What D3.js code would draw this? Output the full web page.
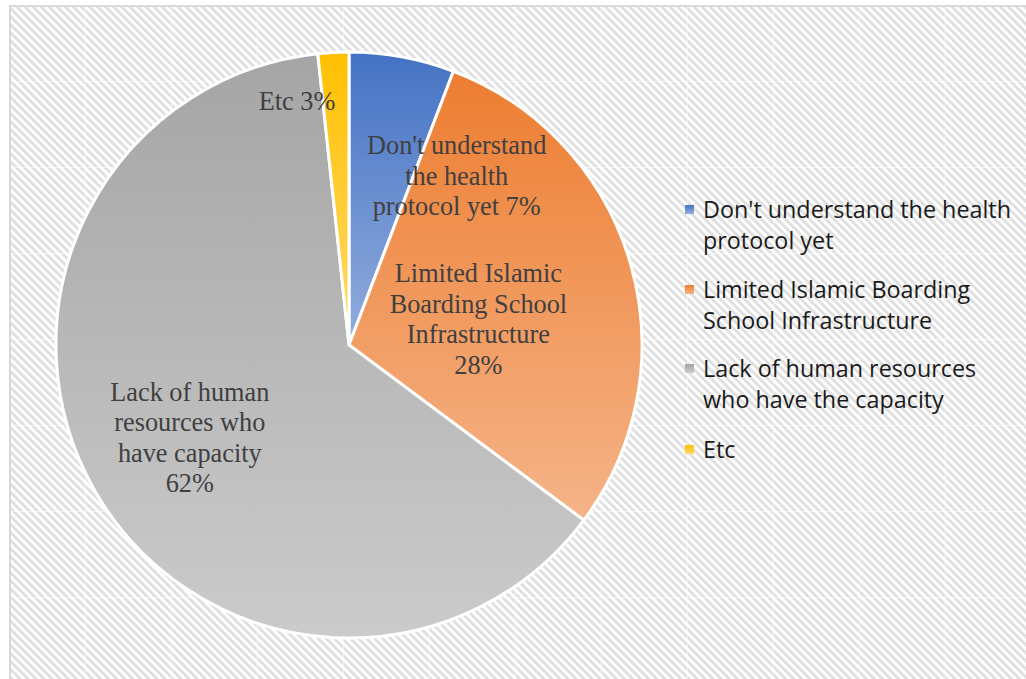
<!DOCTYPE html>
<html>
<head>
<meta charset="utf-8">
<script src="https://cdn.jsdelivr.net/npm/d3@7"></script>
<style>
  body { margin: 0; background: #fff; }
  svg { display: block; }
</style>
</head>
<body>
<div id="chart"></div>
<script>
var width = 1026,
  height = 679;

var categories = ["Don't understand the health protocol yet", "Limited Islamic Boarding School Infrastructure",
  "Lack of human resources who have the capacity", "Etc"];
var values = [5.8, 29.4, 63.1, 1.7];
var pctLabels = ["7%", "28%", "62%", "3%"];
var sliceLabels = [
  ["Don't understand", "the health", "protocol yet 7%"],
  ["Limited Islamic", "Boarding School", "Infrastructure", "28%"],
  ["Lack of human", "resources who", "have capacity", "62%"],
  ["Etc 3%"]
];
var legendLines = [
  ["Don't understand the health", "protocol yet"],
  ["Limited Islamic Boarding", "School Infrastructure"],
  ["Lack of human resources", "who have the capacity"],
  ["Etc"]
];
var colors = ["#4472C4", "#ED7D31", "#A5A5A5", "#FFC000"];

// label anchors: [angle in degrees from top, distance from centre]
var labelAnchor = [[32.4, 201], [78.6, 132], [239.9, 184], [348, 250]];

var cx = 349, cy = 345, radius = 293;

var svg = d3.select("#chart")
  .append("svg")
  .attr("width", width)
  .attr("height", height);

var defs = svg.append("defs");

var pat = defs.append("pattern")
  .attr("id", "stripes")
  .attr("patternUnits", "userSpaceOnUse")
  .attr("width", 5.7)
  .attr("height", 5.7)
  .attr("patternTransform", "rotate(-45)");
pat.append("rect").attr("width", 5.7).attr("height", 5.7).attr("fill", "#ffffff");
pat.append("rect").attr("width", 2.9).attr("height", 5.7).attr("fill", "#e0e0e0");

colors.forEach(function (c, i) {
  var g = defs.append("linearGradient")
    .attr("id", "grad" + i)
    .attr("x1", 0).attr("y1", 0).attr("x2", 0).attr("y2", 1);
  g.append("stop").attr("offset", 0).attr("stop-color", c);
  g.append("stop").attr("offset", 1).attr("stop-color", d3.interpolateRgb(c, "#ffffff")(0.42));
});

// background panel
svg.append("rect")
  .attr("x", 10).attr("y", 6)
  .attr("width", width + 10).attr("height", height + 10)
  .attr("fill", "url(#stripes)")
  .attr("stroke", "#d9d9d9")
  .attr("stroke-width", 2);

// faint tile seams of the texture
var seams = svg.append("g").attr("stroke", "#ffffff").attr("stroke-opacity", 0.55).attr("stroke-width", 1);
d3.range(-1, width, 86).filter(function (x) { return x > 11; }).forEach(function (x) {
  seams.append("line").attr("x1", x + 0.5).attr("x2", x + 0.5).attr("y1", 7).attr("y2", height);
});
d3.range(-5, height, 86).filter(function (y) { return y > 7; }).forEach(function (y) {
  seams.append("line").attr("y1", y + 0.5).attr("y2", y + 0.5).attr("x1", 11).attr("x2", width);
});

var pie = d3.pie().sort(null).value(function (d) { return d; });
var arc = d3.arc().innerRadius(0).outerRadius(radius);
var arcs = pie(values);

var g = svg.append("g").attr("transform", "translate(" + cx + "," + cy + ")");

g.selectAll("path")
  .data(arcs)
  .enter().append("path")
  .attr("d", arc)
  .attr("fill", function (d, i) { return "url(#grad" + i + ")"; })
  .attr("stroke", "#ffffff")
  .attr("stroke-width", 3)
  .attr("stroke-linejoin", "miter");

// slice labels
var lineH = 30.5;
g.selectAll("text.slice")
  .data(sliceLabels)
  .enter().append("text")
  .attr("class", "slice")
  .attr("text-anchor", "middle")
  .style("font-family", "'Liberation Serif', 'Times New Roman', serif")
  .style("font-size", "26.3px")
  .attr("fill", "#404040")
  .each(function (lines, i) {
    var p = d3.pointRadial(labelAnchor[i][0] * Math.PI / 180, labelAnchor[i][1]);
    var top = p[1] - (lines.length - 1) * lineH / 2;
    var t = d3.select(this);
    lines.forEach(function (l, j) {
      t.append("tspan")
        .attr("x", p[0])
        .attr("y", top + j * lineH)
        .attr("dy", "0.35em")
        .text(l);
    });
  });

// legend
var legend = svg.append("g").attr("transform", "translate(685,0)");
var entryY = [210, 290, 369, 450];
var legendFont = 22;

var items = legend.selectAll("g.item")
  .data(legendLines)
  .enter().append("g")
  .attr("class", "item")
  .attr("transform", function (d, i) { return "translate(0," + entryY[i] + ")"; });

items.append("rect")
  .attr("x", 0).attr("y", -5)
  .attr("width", 9).attr("height", 9)
  .attr("fill", function (d, i) { return "url(#grad" + i + ")"; });

var ltexts = items.append("text")
  .attr("x", 18)
  .style("font-family", "'Open Sans', 'Noto Sans', sans-serif")
  .style("font-size", legendFont + "px")
  .attr("fill", "#1a1a1a")
  .each(function (lines) {
    var t = d3.select(this);
    lines.forEach(function (l, j) {
      t.append("tspan").attr("x", 18).attr("y", j * 31).attr("dy", "0.35em").text(l);
    });
  });

// fit legend font so the first line spans the same width as the original
var firstLen = ltexts.node().firstChild.getComputedTextLength();
var fitted = legendFont * 308 / firstLen;
ltexts.style("font-size", fitted + "px");
</script>
</body>
</html>
